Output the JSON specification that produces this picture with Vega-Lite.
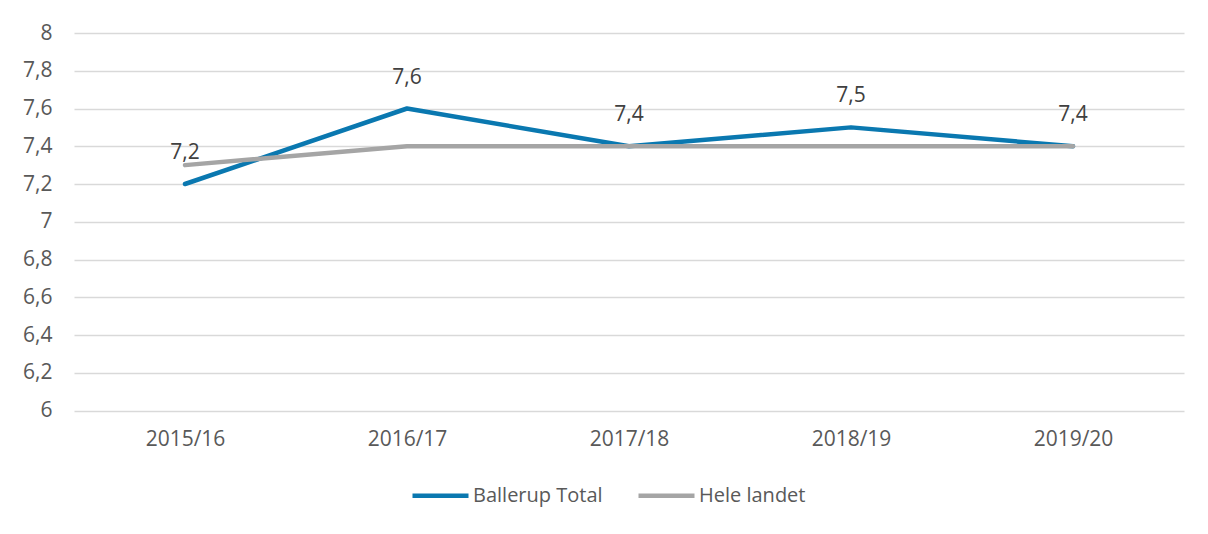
{
  "$schema": "https://vega.github.io/schema/vega-lite/v6.json",
  "width": 1110,
  "height": 377.5,
  "autosize": "none",
  "padding": {"left": 74, "top": 33, "right": 24, "bottom": 123.5},
  "background": "white",
  "config": {
    "locale": {"number": {"decimal": ",", "thousands": ".", "grouping": [3], "currency": ["", " kr."]}},
    "view": {"stroke": null},
    "font": "Open Sans"
  },
  "data": {
    "values": [
      {"year": "2015/16", "series": "Ballerup Total", "value": 7.2},
      {"year": "2016/17", "series": "Ballerup Total", "value": 7.6},
      {"year": "2017/18", "series": "Ballerup Total", "value": 7.4},
      {"year": "2018/19", "series": "Ballerup Total", "value": 7.5},
      {"year": "2019/20", "series": "Ballerup Total", "value": 7.4},
      {"year": "2015/16", "series": "Hele landet", "value": 7.3},
      {"year": "2016/17", "series": "Hele landet", "value": 7.4},
      {"year": "2017/18", "series": "Hele landet", "value": 7.4},
      {"year": "2018/19", "series": "Hele landet", "value": 7.4},
      {"year": "2019/20", "series": "Hele landet", "value": 7.4}
    ]
  },
  "encoding": {
    "x": {
      "field": "year", "type": "ordinal",
      "scale": {"type": "point", "padding": 0.5},
      "axis": {
        "title": null, "labelAngle": 0, "domain": false, "ticks": false,
        "labelFontSize": 21, "labelColor": "#595959", "labelPadding": 18, "grid": false
      }
    },
    "y": {
      "field": "value", "type": "quantitative",
      "scale": {"domain": [6, 8], "nice": false, "zero": false},
      "axis": {
        "title": null, "values": [6, 6.2, 6.4, 6.6, 6.8, 7, 7.2, 7.4, 7.6, 7.8, 8],
        "format": "~g", "domain": false, "ticks": false,
        "labelFontSize": 21, "labelColor": "#595959", "labelPadding": 22,
        "gridColor": "#d9d9d9", "gridWidth": 1.5
      }
    }
  },
  "layer": [
    {
      "mark": {"type": "line", "strokeWidth": 4.5, "strokeCap": "round", "strokeJoin": "round"},
      "encoding": {
        "color": {
          "field": "series", "type": "nominal",
          "scale": {"domain": ["Ballerup Total", "Hele landet"], "range": ["#0A78B0", "#A5A5A5"]},
          "legend": {
            "title": null, "orient": "none", "direction": "horizontal",
            "legendX": 336, "legendY": 432,
            "symbolType": "stroke", "symbolSize": 3136, "symbolStrokeWidth": 4.5,
            "labelFontSize": 20, "labelColor": "#595959", "labelOffset": 2,
            "columnPadding": 26
          }
        },
        "order": {"field": "series", "type": "nominal"}
      }
    },
    {
      "transform": [{"filter": "datum.series === 'Ballerup Total'"}],
      "mark": {"type": "text", "dy": -31, "fontSize": 21, "color": "#404040"},
      "encoding": {
        "text": {"field": "value", "type": "quantitative", "format": ".1f"}
      }
    }
  ]
}
